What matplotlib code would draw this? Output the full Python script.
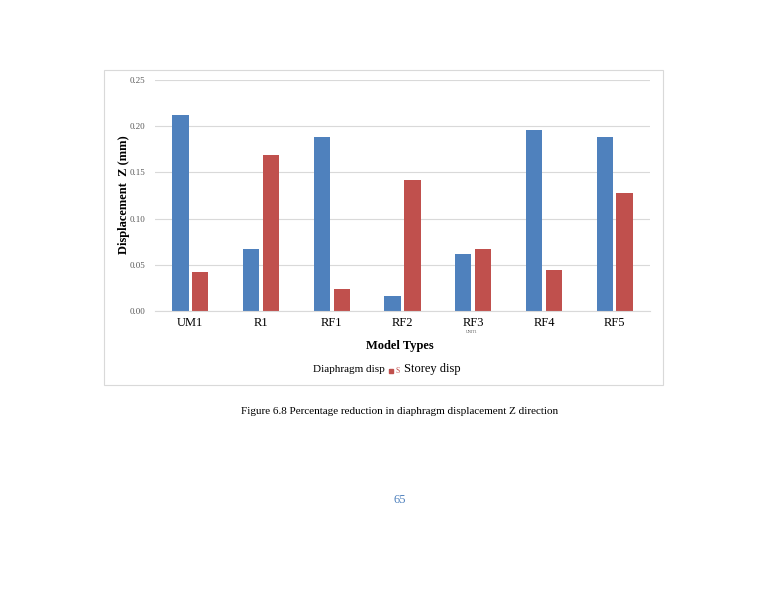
import matplotlib.pyplot as plt
import numpy as np
from matplotlib.patches import Rectangle

models = ['UM1', 'R1', 'RF1', 'RF2', 'RF3', 'RF4', 'RF5']
diaphragm_disp = [0.212, 0.067, 0.188, 0.016, 0.062, 0.196, 0.188]
storey_disp = [0.042, 0.169, 0.024, 0.142, 0.067, 0.044, 0.128]
yticks = [0.00, 0.05, 0.10, 0.15, 0.20, 0.25]

blue = '#4F81BD'
red = '#C0504D'
serif = 'Liberation Serif'

fig = plt.figure(figsize=(7.68, 5.94), dpi=100)
W, H = 768.0, 594.0

# chart frame
fig.patches.append(Rectangle((104 / W, 1 - 385 / H), (663 - 104) / W, (385 - 70) / H,
                             transform=fig.transFigure, fill=False,
                             edgecolor='#D9D9D9', linewidth=0.8))

ax = fig.add_axes([155 / W, 1 - 311 / H, 495 / W, (311 - 80) / H])
x = np.arange(len(models))
bw = 0.23
ax.bar(x - bw / 2 - 0.025, diaphragm_disp, bw, color=blue)
ax.bar(x + bw / 2 + 0.025, storey_disp, bw, color=red)

ax.set_xlim(-0.5, len(models) - 0.5)
ax.set_ylim(0, 0.25)
ax.set_yticks(yticks)
ax.set_yticklabels(['%.2f' % v for v in yticks], fontsize=6.5, color='#595959',
                   family=serif)
ax.set_xticks(x)
ax.set_xticklabels(models, fontsize=9, family=serif)
ax.tick_params(axis='both', length=0, pad=7)
ax.tick_params(axis='x', pad=4)
ax.grid(axis='y', color='#D9D9D9', linewidth=0.8)
ax.set_axisbelow(True)
for s in ['top', 'right', 'left']:
    ax.spines[s].set_visible(False)
ax.spines['bottom'].set_color('#D9D9D9')

fig.text(124 / W, 1 - 195 / H, 'Displacement  Z (mm)', fontsize=9, fontweight='bold',
         family=serif, rotation=90, ha='center', va='center')
fig.text(400 / W, 1 - 346 / H, 'Model Types', fontsize=9, fontweight='bold',
         family=serif, ha='center', va='center')
fig.text(472 / W, 1 - 332 / H, 'UNIT1', fontsize=3, family=serif, color='#555555',
         ha='center', va='center')

# legend as drawn in the source
fig.text(385 / W, 1 - 369 / H, 'Diaphragm disp', fontsize=8, family=serif,
         ha='right', va='center')
fig.patches.append(Rectangle((389 / W, 1 - 373 / H), 4 / W, 4 / H,
                             transform=fig.transFigure, color=red))
fig.text(395 / W, 1 - 371 / H, 'S', fontsize=5.5, family=serif, color=red,
         ha='left', va='center')
fig.text(404 / W, 1 - 369 / H, 'Storey disp', fontsize=9, family=serif,
         ha='left', va='center')

fig.text(400 / W, 1 - 411 / H,
         'Figure 6.8 Percentage reduction in diaphragm displacement Z direction',
         fontsize=8, family=serif, ha='center', va='center')
fig.text(400 / W, 1 - 500 / H, '65', fontsize=9, family=serif, color='#4F81BD',
         ha='center', va='center')

fig.savefig('out.png', dpi=100)
